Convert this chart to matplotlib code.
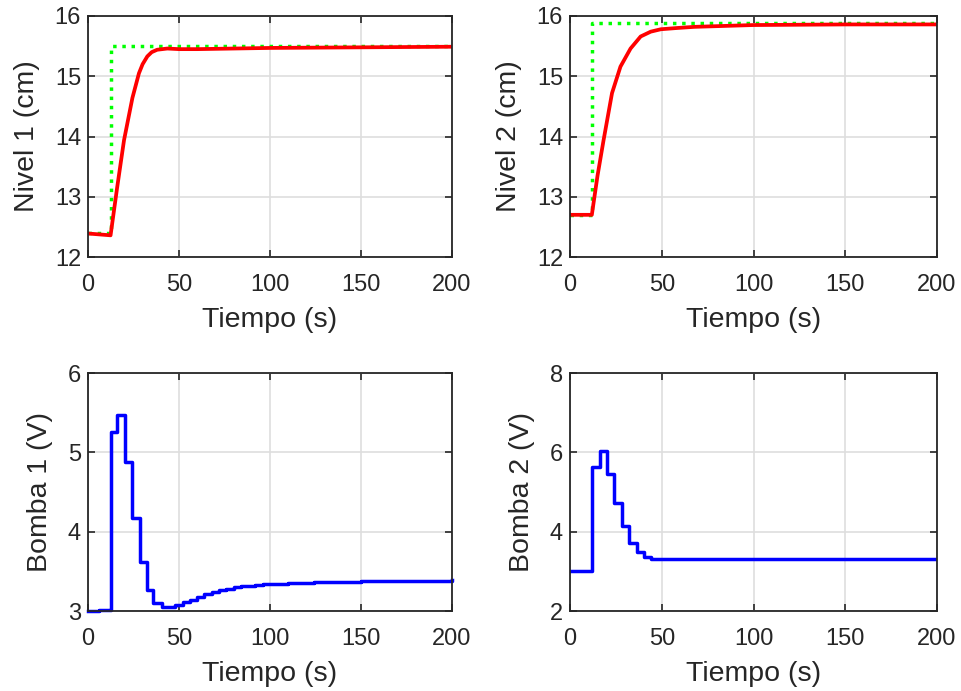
import matplotlib
matplotlib.use("Agg")
import matplotlib.pyplot as plt

plt.rcParams['font.family'] = ['Liberation Sans', 'DejaVu Sans']

# Nivel 1
t_ref1 = [0, 12.4, 12.4, 200]
ref1 = [12.4, 12.4, 15.5, 15.5]
t_n1 = [0, 12.4, 16, 19.8, 24.4, 28, 30, 32.6, 35, 38, 43.6, 50, 60, 80, 100, 150, 200]
n1 = [12.39, 12.36, 13.15, 13.94, 14.64, 15.05, 15.2, 15.33, 15.4, 15.44, 15.46, 15.45, 15.45, 15.46, 15.47, 15.48, 15.49]

# Nivel 2
t_ref2 = [0, 11.9, 11.9, 200]
ref2 = [12.7, 12.7, 15.88, 15.88]
t_n2 = [0, 11.9, 15, 18.3, 22.9, 27.5, 33, 38.5, 44, 49.5, 58, 67.8, 100, 150, 200]
n2 = [12.7, 12.7, 13.35, 13.94, 14.72, 15.16, 15.46, 15.66, 15.74, 15.78, 15.8, 15.82, 15.85, 15.86, 15.86]

# Bomba 1 (step signal, value held from each time)
t_b1 = [0, 6, 12.6, 12.8, 16.1, 20.3, 24.4, 28.6, 32.2, 35.9, 40.5, 44, 48, 52, 56, 60, 64, 68, 72,
        76, 80, 84, 88, 92, 96, 100, 110, 124, 150, 175, 200]
b1 = [3.0, 3.01, 3.02, 5.26, 5.47, 4.88, 4.17, 3.62, 3.27, 3.10, 3.05, 3.05, 3.07, 3.11, 3.14, 3.18,
      3.21, 3.24, 3.26, 3.28, 3.30, 3.31, 3.32, 3.33, 3.34, 3.345, 3.35, 3.36, 3.378, 3.383, 3.387]

# Bomba 2
t_b2 = [0, 11.9, 16.5, 20.1, 24.2, 28.2, 32, 36.3, 40.3, 44.3, 48, 56, 64, 100, 150, 200]
b2 = [3.0, 5.63, 6.03, 5.46, 4.73, 4.14, 3.72, 3.48, 3.36, 3.31, 3.30, 3.31, 3.32, 3.32, 3.31, 3.30]

xticks = [0, 50, 100, 150, 200]

fig = plt.figure(figsize=(9.61, 6.91), dpi=100)
fig.patch.set_facecolor('white')

W1, W2 = 364/961, 367/961
ax1 = fig.add_axes([88/961, (691-257)/691, W1, 241/691])
ax2 = fig.add_axes([570/961, (691-257)/691, W2, 241/691])
ax3 = fig.add_axes([88/961, (691-611)/691, W1, 238/691])
ax4 = fig.add_axes([570/961, (691-611)/691, W2, 238/691])

txt = '#262626'

def style(ax, ylim, yticks, ylabel):
    ax.set_xlim(0, 200)
    ax.set_ylim(*ylim)
    ax.set_xticks(xticks)
    ax.set_yticks(yticks)
    ax.grid(True, color='#dedede', linewidth=1.2)
    ax.set_axisbelow(True)
    ax.tick_params(direction='in', length=5, width=1.2, colors=txt,
                   labelsize=17, top=True, right=True)
    ax.tick_params(axis='x', pad=12.5)
    ax.tick_params(axis='y', pad=5)
    for s in ax.spines.values():
        s.set_color(txt)
        s.set_linewidth(1.3)
    ax.set_xlabel('Tiempo (s)', fontsize=20.5, color=txt, labelpad=8)
    ax.set_ylabel(ylabel, fontsize=20.5, color=txt, labelpad=10.5)

ax1.plot(t_ref1, ref1, color='#00ff00', linestyle=':', linewidth=2.5)
ax1.plot(t_n1, n1, color='#ff0000', linewidth=2.7)
style(ax1, (12, 16), [12, 13, 14, 15, 16], 'Nivel 1 (cm)')

ax2.plot(t_ref2, ref2, color='#00ff00', linestyle=':', linewidth=2.5)
ax2.plot(t_n2, n2, color='#ff0000', linewidth=2.7)
style(ax2, (12, 16), [12, 13, 14, 15, 16], 'Nivel 2 (cm)')

ax3.step(t_b1, b1, where='post', color='#0000ff', linewidth=2.5, clip_on=False)
style(ax3, (3, 6), [3, 4, 5, 6], 'Bomba 1 (V)')

ax4.step(t_b2, b2, where='post', color='#0000ff', linewidth=2.5)
style(ax4, (2, 8), [2, 4, 6, 8], 'Bomba 2 (V)')

fig.savefig('out.png', dpi=100)
